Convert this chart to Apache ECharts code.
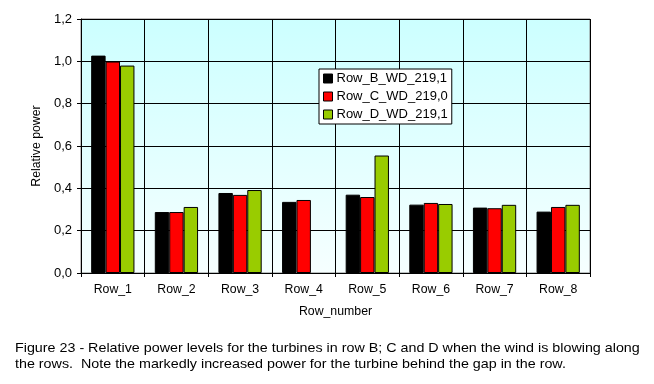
<!DOCTYPE html>
<html>
<head>
<meta charset="utf-8">
<script src="https://cdn.jsdelivr.net/npm/echarts@6/dist/echarts.min.js"></script>
<style>
html,body{margin:0;padding:0;background:#fff;}
#chart{width:654px;height:384px;}
</style>
</head>
<body>
<div id="chart"></div>
<script>
const categories = ['Row_1','Row_2','Row_3','Row_4','Row_5','Row_6','Row_7','Row_8'];
const rowB = [1.027, 0.288, 0.378, 0.336, 0.370, 0.323, 0.309, 0.290];
const rowC = [0.999, 0.288, 0.369, 0.345, 0.359, 0.331, 0.306, 0.312];
const rowD = [0.980, 0.312, 0.392, null, 0.555, 0.326, 0.322, 0.322];
const seriesNames = ['Row_B_WD_219,1','Row_C_WD_219,0','Row_D_WD_219,1'];
const seriesColors = ['#000000','#ff0000','#99cc00'];
const captionLines = [
  'Figure 23 - Relative power levels for the turbines in row B; C and D when the wind is blowing along',
  'the rows.  Note the markedly increased power for the turbine behind the gap in the row.'
];

const font = 'Liberation Sans, Arial, sans-serif';
const chart = echarts.init(document.getElementById('chart'));
const mk = (name, data, color) => ({
  name, type: 'bar', data,
  barGap: '0%', barCategoryGap: '32%',
  itemStyle: { color, borderColor: '#000', borderWidth: 1 }
});
chart.setOption({
  animation: false,
  backgroundColor: '#fff',
  textStyle: { fontFamily: font, color: '#000' },
  grid: {
    left: 81, top: 19, right: 64, bottom: 111,
    show: true, borderColor: '#808080', borderWidth: 1,
    backgroundColor: new echarts.graphic.LinearGradient(0, 0, 0, 1, [
      { offset: 0, color: '#ccffff' },
      { offset: 1, color: '#f6ffff' }
    ])
  },
  legend: {
    orient: 'vertical', left: 319, top: 69,
    backgroundColor: '#fff', borderColor: '#000', borderWidth: 1,
    padding: [3, 4, 3, 4],
    itemWidth: 9, itemHeight: 9, itemGap: 5, icon: 'rect',
    textStyle: { fontFamily: font, fontSize: 13, color: '#000', padding: [0,0,0,-1] },
    itemStyle: { borderColor: '#000', borderWidth: 1 },
    data: seriesNames
  },
  xAxis: {
    type: 'category', data: categories,
    name: 'Row_number', nameLocation: 'middle', nameGap: 33,
    nameTextStyle: { fontFamily: font, fontSize: 12.3, color: '#000' },
    axisLine: { lineStyle: { color: '#000', width: 1 } },
    axisTick: { show: true, length: 4, lineStyle: { color: '#000' } },
    axisLabel: { fontFamily: font, fontSize: 12.3, color: '#000', margin: 11 },
    splitLine: { show: true, interval: 0, lineStyle: { color: '#000', width: 1 } }
  },
  yAxis: {
    type: 'value', min: 0, max: 1.2, interval: 0.2,
    name: 'Relative power', nameLocation: 'middle', nameGap: 32,
    nameTextStyle: { fontFamily: font, fontSize: 12.3, color: '#000' },
    axisLine: { show: true, lineStyle: { color: '#000', width: 1 } },
    axisTick: { show: true, length: 4, lineStyle: { color: '#000' } },
    axisLabel: { fontFamily: font, fontSize: 13, color: '#000', margin: 9,
      formatter: v => v.toFixed(1).replace('.', ',') },
    splitLine: { show: true, lineStyle: { color: '#000', width: 1 } }
  },
  series: [
    mk(seriesNames[0], rowB, seriesColors[0]),
    mk(seriesNames[1], rowC, seriesColors[1]),
    mk(seriesNames[2], rowD, seriesColors[2])
  ],
  graphic: [{
    type: 'text', x: 15, y: 340, scaleX: 1.1, scaleY: 1, originX: 0, originY: 0,
    style: { x: 0, y: 0, verticalAlign: 'top', align: 'left',
      text: captionLines.join('\n'), fontFamily: font, fontSize: 13, lineHeight: 16, fill: '#000' }
  }]
});
</script>
</body>
</html>
